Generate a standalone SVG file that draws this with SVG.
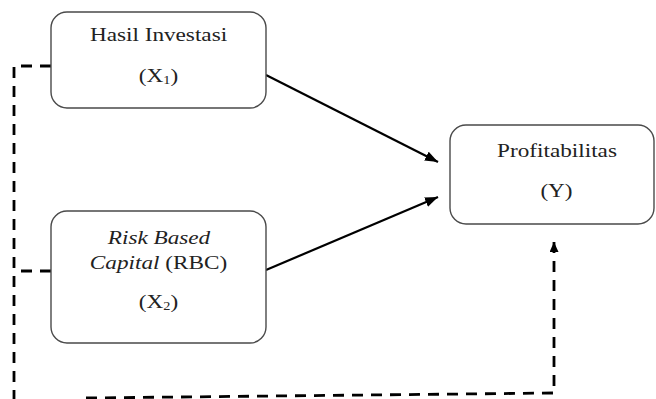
<svg xmlns="http://www.w3.org/2000/svg" width="656" height="399" viewBox="0 0 656 399">
<defs>
<style>
.box{fill:#fff;stroke:#4a4a4a;stroke-width:1.4}
.t{font-family:"Liberation Serif","Times New Roman",serif;font-size:19.5px;fill:#222;text-anchor:middle}
.solid{fill:none;stroke:#000;stroke-width:2.2}
.dash{fill:none;stroke:#000;stroke-width:2.8;stroke-dasharray:11 8}
</style>
<marker id="ah" markerUnits="userSpaceOnUse" markerWidth="14" markerHeight="12" refX="13" refY="5" orient="auto">
<path d="M0,0 L13,5 L0,10 Z" fill="#000"/>
</marker>
<marker id="ahs" markerUnits="userSpaceOnUse" markerWidth="12" markerHeight="10" refX="10" refY="4.5" orient="auto">
<path d="M0,0 L10,4.5 L0,9 Z" fill="#000"/>
</marker>
</defs>
<g id="connectors">
<line class="solid" x1="266" y1="75" x2="438" y2="162" marker-end="url(#ah)"/>
<line class="solid" x1="266" y1="270" x2="438" y2="197" marker-end="url(#ah)"/>
<path class="dash" d="M51,66 L14,66 L14,399"/>
<path class="dash" d="M51,271 L14,271"/>
<path class="dash" d="M86,398 L554,393 L554,242" marker-end="url(#ahs)"/>
</g>
<g id="x1">
<rect class="box" x="51" y="12" width="215" height="96" rx="16"/>
<text class="t" transform="translate(158.5,41) scale(1.19,1)">Hasil Investasi</text>
<text class="t" transform="translate(158.5,82) scale(1.19,1)">(X<tspan font-size="12" dy="2">1</tspan><tspan dy="-2">)</tspan></text>
</g>
<g id="x2">
<rect class="box" x="51" y="211" width="215" height="132" rx="16"/>
<text class="t" font-style="italic" transform="translate(159,244) scale(1.19,1)">Risk Based</text>
<text class="t" transform="translate(158.5,269) scale(1.19,1)"><tspan font-style="italic">Capital</tspan> (RBC)</text>
<text class="t" transform="translate(158.5,308) scale(1.19,1)">(X<tspan font-size="12" dy="2">2</tspan><tspan dy="-2">)</tspan></text>
</g>
<g id="y">
<rect class="box" x="450" y="125" width="204" height="99" rx="16"/>
<text class="t" transform="translate(557,157) scale(1.19,1)">Profitabilitas</text>
<text class="t" transform="translate(556.5,197) scale(1.19,1)">(Y)</text>
</g>
</svg>
